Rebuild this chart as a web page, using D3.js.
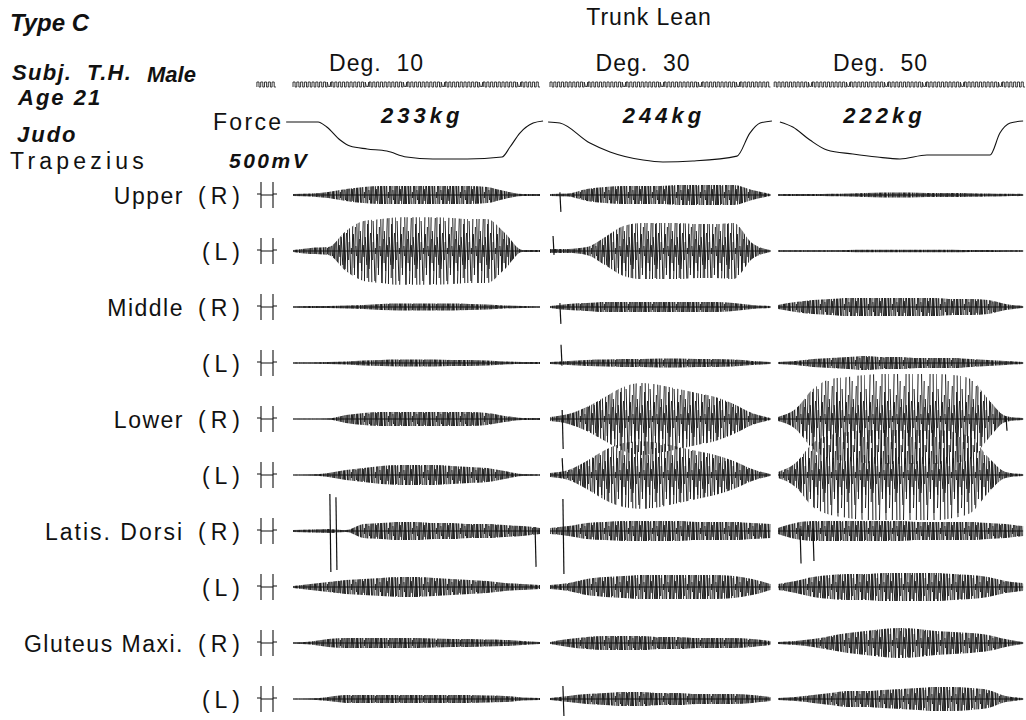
<!DOCTYPE html>
<html>
<head>
<meta charset="utf-8">
<script src="https://cdn.jsdelivr.net/npm/d3@7"></script>
<style>
body { margin: 0; background: #fff; }
svg { display: block; }
text { font-family: "Liberation Sans", Arial, sans-serif; fill: #111; white-space: pre; }
.bi { font-weight: bold; font-style: italic; }
</style>
</head>
<body>
<svg id="chart" width="1026" height="720"></svg>
<script>
// EMG record, trunk lean pulls - Type C subject

// ---- data ----
const conditions = ['Deg. 10', 'Deg. 30', 'Deg. 50'];
const peakForce = ['233kg', '244kg', '222kg'];
const durations = [6.5, 5.8, 6.45];          // seconds shown per condition

const muscles = ['Upper', '', 'Middle', '', 'Lower', '', 'Latis. Dorsi', '', 'Gluteus Maxi.', ''];
const sides = ['(R)', '(L)', '(R)', '(L)', '(R)', '(L)', '(R)', '(L)', '(R)', '(L)'];

// force trace: [time s, kg]
const forceDeg10 = [[-0.18, 6], [0.66, 6], [0.89, 38], [1.24, 120], [1.5, 158], [1.95, 176], [2.47, 189],
    [2.99, 227], [3.68, 239], [4.58, 239], [5.5, 227], [5.71, 164], [5.97, 76], [6.32, 13], [6.58, 0]];
const forceDeg30 = [[-0.05, 6], [0.26, 13], [1.05, 139], [1.58, 195], [2.45, 246], [2.97, 258],
    [3.76, 252], [4.92, 221], [5.26, 76], [5.53, 13], [5.84, 0]];
const forceDeg50 = [[0.05, 6], [0.39, 38], [0.84, 120], [1.29, 183], [1.97, 208], [2.61, 227],
    [3.21, 239], [3.92, 214], [5.58, 214], [5.84, 76], [6.11, 13], [6.45, 0]];

// EMG envelopes, half amplitude in mV, evenly spaced over each condition
const upperR = [
    [40, 60, 120, 230, 310, 350, 350, 350, 350, 350, 350, 310, 150, 40, 40],
    [40, 60, 230, 310, 350, 350, 350, 380, 380, 380, 380, 190, 40],
    [30, 40, 40, 50, 60, 80, 100, 100, 90, 80, 80, 70, 60, 50, 40]];
const upperL = [
    [40, 120, 150, 770, 1150, 1230, 1300, 1300, 1300, 1270, 1230, 1230, 700, 40, 40],
    [80, 80, 150, 540, 960, 1080, 1080, 1080, 1040, 1040, 1080, 310, 40],
    [30, 30, 30, 30, 40, 50, 50, 50, 50, 50, 50, 40, 40, 30, 30]];
const middleR = [
    [20, 40, 40, 60, 80, 120, 130, 130, 130, 130, 120, 100, 60, 40, 20],
    [40, 120, 150, 190, 190, 190, 190, 190, 190, 190, 150, 80, 40],
    [80, 190, 270, 310, 350, 350, 350, 350, 350, 350, 310, 310, 270, 120, 40]];
const middleL = [
    [20, 20, 40, 60, 100, 120, 130, 130, 130, 120, 120, 100, 60, 40, 40],
    [40, 80, 120, 130, 150, 150, 170, 170, 150, 150, 130, 80, 40],
    [40, 80, 150, 190, 230, 270, 230, 230, 190, 190, 190, 150, 120, 80, 40]];
const lowerR = [
    [10, 10, 20, 150, 230, 270, 270, 270, 270, 270, 270, 230, 120, 40, 40],
    [80, 190, 460, 850, 1230, 1380, 1300, 1150, 1000, 850, 580, 230, 40],
    [80, 380, 1150, 1540, 1620, 1690, 1730, 1730, 1730, 1730, 1690, 1540, 770, 120, 40]];
const lowerL = [
    [10, 20, 80, 190, 270, 350, 380, 380, 380, 350, 310, 270, 150, 40, 20],
    [80, 190, 540, 960, 1230, 1300, 1230, 1080, 920, 770, 540, 230, 40],
    [120, 460, 1230, 1540, 1650, 1730, 1730, 1730, 1730, 1730, 1650, 1460, 690, 120, 40]];
const latisR = [
    [40, 60, 80, 40, 270, 310, 350, 350, 310, 310, 270, 270, 230, 190, 120],
    [120, 190, 310, 350, 380, 380, 380, 380, 350, 350, 350, 310, 270],
    [120, 310, 380, 380, 380, 380, 380, 380, 350, 350, 350, 350, 310, 270, 190]];
const latisL = [
    [40, 120, 190, 270, 310, 350, 380, 380, 350, 310, 270, 230, 150, 120, 80],
    [80, 150, 310, 380, 420, 460, 460, 460, 460, 460, 420, 310, 120],
    [120, 230, 380, 460, 500, 500, 540, 540, 540, 540, 500, 460, 380, 230, 150]];
const gluteusR = [
    [20, 60, 150, 190, 190, 190, 190, 190, 170, 150, 150, 130, 120, 80, 40],
    [40, 150, 230, 270, 270, 270, 230, 230, 190, 190, 190, 150, 80],
    [40, 80, 150, 270, 380, 460, 540, 580, 540, 460, 420, 380, 310, 150, 40]];
const gluteusL = [
    [10, 20, 80, 150, 150, 150, 150, 150, 150, 150, 150, 130, 120, 60, 40],
    [40, 120, 190, 230, 270, 270, 230, 230, 190, 190, 190, 150, 80],
    [40, 80, 150, 230, 310, 310, 350, 380, 420, 460, 460, 420, 350, 120, 40]];

// single artefact spikes: [row, condition, time s, top mV, bottom mV]
const artefacts = [
    [0, 1, 0.26, 100, -650], [1, 1, 0.08, 580, -150], [2, 1, 0.26, 150, -650],
    [3, 1, 0.29, 700, -100], [4, 1, 0.32, 350, -1150], [5, 1, 0.32, 650, -100],
    [6, 0, 0.97, 1420, -1580], [6, 0, 1.13, 1300, -1500], [6, 0, 6.37, 150, -1380],
    [6, 1, 0.34, 1230, -1650], [6, 2, 0.58, 100, -1250], [6, 2, 0.92, 100, -1150],
    [4, 2, 6.0, 100, -450], [9, 1, 0.34, 500, -650]];

// ---- layout ----
const colStart = [293, 550, 778];
const pxPerSec = 38;
const svg = d3.select('#chart');

const channels = [upperR, upperL, middleR, middleL, lowerR, lowerL, latisR, latisL, gluteusR, gluteusL];
const forces = [forceDeg10, forceDeg30, forceDeg50];

const xs = durations.map((d, i) => d3.scaleLinear()
    .domain([0, d]).range([colStart[i], colStart[i] + d * pxPerSec]));
const rowY = d3.scalePoint().domain(d3.range(channels.length)).range([195, 699]);
const amp = d3.scaleLinear().domain([-1000, 1000]).range([26, -26]);
const forceY = d3.scaleLinear().domain([0, 250]).range([121, 160.7]);

// pen texture for the bursts: strokes of mixed length and slant about the
// trace line; each envelope area clips them (pattern sits in row-local coords)
const penStrokes = [
    [0.5, 60, 0.6], [1.9, 9, -0.3], [3.0, 30, 0.9], [4.4, 3, 0], [5.3, 45, -0.8],
    [6.8, 17, 0.4], [7.9, 24, -0.5], [9.2, 5, 0.3], [10.3, 60, 1.0], [11.6, 38, -0.6],
    [12.9, 12, 0.2], [14.0, 20, 0.7], [15.4, 33, -0.9], [16.6, 6, 0.3], [17.7, 50, -0.4],
    [19.0, 14, 0.8], [20.4, 27, -0.2], [21.5, 60, 0.5], [22.8, 18, -0.7]];
const defs = svg.append('defs');
defs.selectAll('pattern')
    .data([0, 11])
    .join('pattern')
    .attr('id', d => 'emgPen' + d)
    .attr('patternUnits', 'userSpaceOnUse')
    .attr('x', d => d).attr('y', -60)
    .attr('width', 24).attr('height', 120)
    .selectAll('line')
    .data(penStrokes)
    .join('line')
    .attr('x1', d => d[0] - d[2]).attr('y1', d => 60 - d[1])
    .attr('x2', d => d[0] + d[2]).attr('y2', d => 60 + d[1])
    .attr('stroke', '#111').attr('stroke-width', 0.95);

// ---- header texts ----
const head = svg.append('g');
head.append('text').attr('class', 'bi').attr('x', 10).attr('y', 31)
    .style('font-size', '24px').text('Type C');
head.append('text').attr('class', 'bi').attr('x', 12).attr('y', 80)
    .style('font-size', '22px').style('letter-spacing', '1.3px').text('Subj.  T.H.');
head.append('text').attr('class', 'bi').attr('x', 147).attr('y', 82)
    .style('font-size', '22px').text('Male');
head.append('text').attr('class', 'bi').attr('x', 18).attr('y', 105)
    .style('font-size', '22px').style('letter-spacing', '2px').text('Age 21');
head.append('text').attr('class', 'bi').attr('x', 17).attr('y', 142)
    .style('font-size', '22px').style('letter-spacing', '2px').text('Judo');
head.append('text').attr('x', 10).attr('y', 169)
    .style('font-size', '23px').style('letter-spacing', '4.2px').text('Trapezius');
head.append('text').attr('x', 213).attr('y', 130)
    .style('font-size', '23px').style('letter-spacing', '2.3px').text('Force');
head.append('text').attr('class', 'bi').attr('x', 229).attr('y', 168)
    .style('font-size', '21px').style('letter-spacing', '2.5px').text('500mV');
head.append('text').attr('x', 649).attr('y', 25).attr('text-anchor', 'middle')
    .style('font-size', '23px').style('letter-spacing', '1px').text('Trunk Lean');

// condition titles and peak force
const titleT = [2.2, 2.45, 2.7];
const kgT = [3.4, 3.0, 2.8];
conditions.forEach((c, i) => {
    svg.append('text')
        .attr('x', xs[i](titleT[i])).attr('y', 71)
        .attr('text-anchor', 'middle')
        .style('font-size', '23px').style('letter-spacing', '1px')
        .text(c.replace(' ', '  '));
    svg.append('text').attr('class', 'bi')
        .attr('x', xs[i](kgT[i])).attr('y', 123)
        .attr('text-anchor', 'middle')
        .style('font-size', '22px').style('letter-spacing', '4px')
        .text(peakForce[i]);
});

// ---- timer marks (0.1 s pulses, longer mark every second) ----
function timerPath(x, t0, t1) {
    const n = Math.round((t1 - t0) / 0.1);
    let p = `M${x(t0)},87`;
    for (let k = 0; k < n; k++) {
        const a = x(t0 + k * 0.1), b = x(t0 + (k + 0.55) * 0.1), e = x(t0 + (k + 1) * 0.1);
        if (k % 10 === 9) {
            p += `L${a},87 L${a},82 Q${(a + e) / 2},92 ${e},82 L${e},87`;
        } else {
            p += `L${a},87 L${a},82 L${b},82 L${b},87 L${e},87`;
        }
    }
    return p;
}
const timerSpans = [[[-0.95, -0.4], [0, 6.5]], [[0, 5.75]], [[-0.1, 6.5]]];
timerSpans.forEach((spans, i) => spans.forEach(([t0, t1]) => {
    svg.append('path')
        .attr('d', timerPath(xs[i], t0, t1))
        .attr('fill', 'none').attr('stroke', '#222').attr('stroke-width', 0.9);
}));

// ---- force traces ----
forces.forEach((f, i) => {
    const line = d3.line()
        .x(d => xs[i](d[0]))
        .y(d => forceY(d[1]))
        .curve(d3.curveMonotoneX);
    svg.append('path')
        .attr('d', line(f))
        .attr('fill', 'none').attr('stroke', '#111').attr('stroke-width', 1.1);
});

// ---- EMG rows ----
const rows = svg.selectAll('g.row')
    .data(channels)
    .join('g')
    .attr('class', 'row')
    .attr('transform', (d, i) => `translate(0,${rowY(i)})`);

// muscle names and sides
rows.append('text')
    .attr('x', 184).attr('y', 9)
    .attr('text-anchor', 'end')
    .style('font-size', '23px')
    .style('letter-spacing', (d, i) => i === 6 ? '2px' : '1.5px')
    .text((d, i) => muscles[i]);
rows.append('text')
    .attr('x', 245).attr('y', 9)
    .attr('text-anchor', 'end')
    .style('font-size', '23px').style('letter-spacing', '5px')
    .text((d, i) => sides[i]);

// 500 mV calibration pulse
rows.append('path')
    .attr('d', `M257,${amp(40)}H261M261,${amp(500)}V${amp(-500)}M261,0H273M273,${amp(500)}V${amp(-500)}M273,${amp(40)}H277`)
    .attr('fill', 'none').attr('stroke', '#111').attr('stroke-width', 1.1);

rows.each(function(env, r) {
    const g = d3.select(this);
    env.forEach((vals, c) => {
        const x = xs[c];
        const step = durations[c] / (vals.length - 1);
        const pts = vals.map((v, k) => [k * step, v]);
        const band = d3.area()
            .x(d => x(d[0]))
            .y0(d => amp(-d[1]))
            .y1(d => amp(d[1]))
            .curve(d3.curveMonotoneX);
        g.append('path').attr('d', band(pts)).attr('fill', `url(#emgPen${r % 2 ? 11 : 0})`);
        g.append('line')
            .attr('x1', x(0)).attr('x2', x(durations[c]))
            .attr('y1', 0).attr('y2', 0)
            .attr('stroke', '#111').attr('stroke-width', 1.1);
    });
});

// artefact spikes
svg.selectAll('line.spike')
    .data(artefacts)
    .join('line')
    .attr('class', 'spike')
    .attr('x1', d => xs[d[1]](d[2]))
    .attr('x2', d => xs[d[1]](d[2]) + 1)
    .attr('y1', d => rowY(d[0]) + amp(d[3]))
    .attr('y2', d => rowY(d[0]) + amp(d[4]))
    .attr('stroke', '#111').attr('stroke-width', 1.2);
</script>
</body>
</html>
